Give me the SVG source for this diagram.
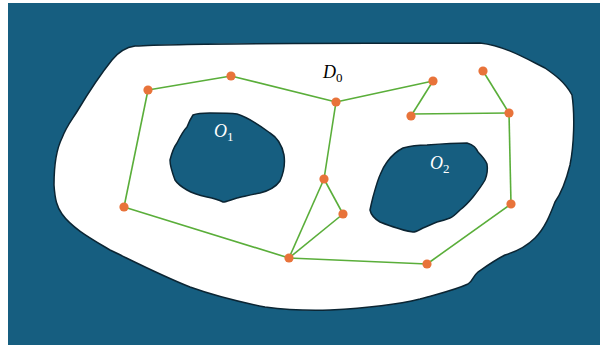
<svg xmlns="http://www.w3.org/2000/svg" width="600" height="345" viewBox="0 0 600 345">
<style>
.bg{fill:#165e80}
.region{fill:#ffffff;stroke:#0b2533;stroke-width:1.5;stroke-linejoin:round}
.hole{fill:#165e80;stroke:#0b2533;stroke-width:1.5;stroke-linejoin:round}
.edge{stroke:#5aae3a;stroke-width:1.6;fill:none}
.node{fill:#e8733a}
.lbl{font-family:"Liberation Serif","DejaVu Serif",serif;font-style:italic;font-size:18px}
.sub{font-family:"Liberation Serif","DejaVu Serif",serif;font-size:13px;font-style:normal}
</style>
<rect class="bg" x="8" y="3" width="592" height="342"/>
<g id="domain">
<path class="region" d="M135,46 C200,42 400,44 480,43 C505,46 525,58 545,68 C555,75 565,82 572,95 C575,115 574,145 570,165 C565,185 560,195 555,202 C550,215 545,228 535,238 C525,248 515,252 505,255 C495,260 488,265 478,272 C472,277 474,280 468,284 C455,290 445,292 420,299 C400,304 370,308 330,310 C300,311 280,309 265,307 C240,302 215,296 190,287 C160,275 135,262 110,250 C90,238 72,228 62,214 C57,207 55,200 54,185 C54,165 56,150 62,138 C67,125 72,120 78,110 C90,90 100,75 112,60 C120,50 128,47 135,46 Z"/>
</g>
<g id="O1">
<path class="hole" d="M193,115 C198,113 205,113 210,113 C220,113 230,113 237,114 C250,118 262,127 270,133 C278,138 282,145 284,155 C285,162 285,170 280,181 C275,188 268,191 260,193 C250,195 242,197 237,198 C230,200 226,202 223,202 C217,199 212,198 207,197 C198,195 192,193 187,190 C180,186 177,183 175,180 C172,172 170,166 170,160 C172,152 174,147 177,143 C181,135 184,130 187,127 C189,122 191,118 193,115 Z"/>
<text class="lbl" x="214" y="137" fill="#ffffff">O<tspan class="sub" dy="4">1</tspan></text>
</g>
<g id="O2">
<path class="hole" d="M403,148 C410,146 418,145 427,145 C440,144 455,143 467,143 C474,145 476,148 478,152 C482,156 485,159 487,164 C488,170 487,175 485,180 C481,187 477,192 473,197 C468,203 464,207 460,210 C456,214 453,217 450,218 C445,220 441,221 437,222 C432,224 428,226 423,228 C419,230 416,232 413,232 C407,231 402,230 397,228 C390,226 385,224 380,222 C375,219 371,215 370,210 C371,205 372,201 373,197 C375,190 377,182 380,175 C382,170 384,166 387,162 C392,155 397,151 403,148 Z"/>
<text class="lbl" x="430" y="169" fill="#ffffff">O<tspan class="sub" dy="4">2</tspan></text>
</g>
<g id="D0">
<text class="lbl" x="323" y="78" fill="#000000">D<tspan class="sub" dy="4">0</tspan></text>
</g>
<g id="connectors">
<line class="edge" x1="148" y1="90" x2="231" y2="76"/>
<line class="edge" x1="231" y1="76" x2="336" y2="102"/>
<line class="edge" x1="336" y1="102" x2="433" y2="81"/>
<line class="edge" x1="433" y1="81" x2="411" y2="116"/>
<line class="edge" x1="411" y1="114" x2="509" y2="113"/>
<line class="edge" x1="483" y1="71" x2="509" y2="113"/>
<line class="edge" x1="509" y1="113" x2="511" y2="204"/>
<line class="edge" x1="511" y1="204" x2="427" y2="264"/>
<line class="edge" x1="427" y1="264" x2="289" y2="258"/>
<line class="edge" x1="289" y1="258" x2="124" y2="207"/>
<line class="edge" x1="124" y1="207" x2="148" y2="90"/>
<line class="edge" x1="336" y1="102" x2="324" y2="179"/>
<line class="edge" x1="324" y1="179" x2="289" y2="258"/>
<line class="edge" x1="324" y1="179" x2="343" y2="214"/>
<line class="edge" x1="343" y1="214" x2="289" y2="258"/>
</g>
<g id="n1"><circle class="node" cx="148" cy="90" r="4.6"/></g>
<g id="n2"><circle class="node" cx="231" cy="76" r="4.6"/></g>
<g id="n3"><circle class="node" cx="336" cy="102" r="4.6"/></g>
<g id="n4"><circle class="node" cx="433" cy="81" r="4.6"/></g>
<g id="n5"><circle class="node" cx="483" cy="71" r="4.6"/></g>
<g id="n6"><circle class="node" cx="411" cy="116" r="4.6"/></g>
<g id="n7"><circle class="node" cx="509" cy="113" r="4.6"/></g>
<g id="n8"><circle class="node" cx="324" cy="179" r="4.6"/></g>
<g id="n9"><circle class="node" cx="343" cy="214" r="4.6"/></g>
<g id="n10"><circle class="node" cx="124" cy="207" r="4.6"/></g>
<g id="n11"><circle class="node" cx="289" cy="258" r="4.6"/></g>
<g id="n12"><circle class="node" cx="427" cy="264" r="4.6"/></g>
<g id="n13"><circle class="node" cx="511" cy="204" r="4.6"/></g>
</svg>
